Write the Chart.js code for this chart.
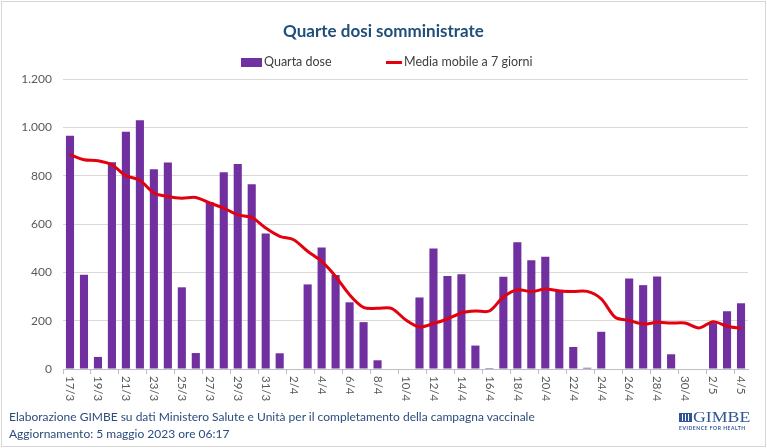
<!DOCTYPE html>
<html>
<head>
<meta charset="utf-8">
<script src="https://cdn.jsdelivr.net/npm/chart.js@4.4.0/dist/chart.umd.min.js"></script>
<style>
  html, body { margin: 0; padding: 0; background: #fff; }
  body { width: 767px; height: 448px; position: relative; overflow: hidden; font-family: Lato, 'Open Sans', sans-serif; }
  #frame { position: absolute; left: 1px; top: 1px; width: 763px; height: 444px; border: 1px solid #d6d6d6; }
  #wrap { position: absolute; left: 0; top: 0; width: 767px; height: 448px; }
  .title { position: absolute; left: 0; width: 767px; top: 20px; text-align: center; font-weight: bold; font-size: 17px; color: #1f4e79; }
  .leg { position: absolute; top: 54px; font-size: 12.5px; color: #404040; white-space: nowrap; }
  .sw-bar { position: absolute; width: 21px; height: 9px; background: #7030a0; }
  .sw-line { position: absolute; width: 16px; height: 3px; background: #e3000f; }
  .foot { position: absolute; left: 9px; font-size: 12px; color: #2b4c7e; white-space: nowrap; }
  .logo { position: absolute; left: 679px; top: 410px; color: #2f5597; }
  .logo .name { font-family: 'Liberation Serif', 'DejaVu Serif', serif; font-size: 14px; position: absolute; left: 14px; top: 0;
    transform: scaleX(1.27); transform-origin: 0 0; }
  .logo .icon { position: absolute; left: 0; top: 3px; width: 13px; height: 9px;
    background: repeating-linear-gradient(90deg, #2f5597 0 2px, #fff 2px 3px); border: 1px solid #2f5597; box-sizing: border-box; }
  .logo .sub { position: absolute; left: 0; top: 15px; font-size: 5px; font-weight: bold; letter-spacing: 0.55px; white-space: nowrap; }
</style>
</head>
<body>
<div id="frame"></div>
<div id="wrap"><canvas id="chart" width="767" height="448"></canvas></div>
<div class="title">Quarte dosi somministrate</div>
<div class="sw-bar" style="left:241px; top:58px;"></div>
<div class="leg" style="left:264px;">Quarta dose</div>
<div class="sw-line" style="left:386px; top:61px;"></div>
<div class="leg" style="left:404px;">Media mobile a 7 giorni</div>
<div class="foot" style="top:409px;">Elaborazione GIMBE su dati Ministero Salute e Unità per il completamento della campagna vaccinale</div>
<div class="foot" style="top:426px;">Aggiornamento: 5 maggio 2023 ore 06:17</div>
<div class="logo"><div class="icon"></div><div class="name">GIMBE</div><div class="sub">EVIDENCE FOR HEALTH</div></div>
<script>
// ─── data ───
const days = ['17/3','18/3','19/3','20/3','21/3','22/3','23/3','24/3','25/3','26/3','27/3','28/3','29/3','30/3','31/3',
  '1/4','2/4','3/4','4/4','5/4','6/4','7/4','8/4','9/4','10/4','11/4','12/4','13/4','14/4','15/4',
  '16/4','17/4','18/4','19/4','20/4','21/4','22/4','23/4','24/4','25/4','26/4','27/4','28/4','29/4','30/4',
  '1/5','2/5','3/5','4/5'];
const quartaDose = [965,390,50,856,982,1029,827,854,338,66,690,814,848,765,561,
  65,0,350,503,389,276,194,36,0,0,296,499,385,392,97,
  4,382,525,450,465,328,91,5,154,0,374,347,383,61,0,
  0,190,239,272];
const mediaMobile = [887,866,862,845,800,781,728,714,707,710,687,666,638,627,583,
  549,535,487,445,383,307,255,251,251,204,174,188,207,232,240,
  240,298,328,320,331,323,321,321,290,214,201,186,193,190,190,
  170,196,177,168];
const yTicks = [0,200,400,600,800,1000,1200];

const fmt = v => v >= 1000 ? Math.floor(v/1000) + '.' + String(v%1000).padStart(3,'0') : String(v);

// x labels rotated clockwise, every other day
const rotLabels = {
  id: 'rotLabels',
  afterDraw(chart) {
    const xs = chart.scales.x, ctx = chart.ctx;
    ctx.save();
    ctx.font = "11.5px Lato, 'Open Sans', sans-serif";
    ctx.fillStyle = '#595959';
    ctx.textAlign = 'left';
    ctx.textBaseline = 'middle';
    days.forEach((d, i) => {
      if (i % 2) return;
      ctx.save();
      ctx.translate(xs.getPixelForTick(i), xs.top + 7);
      ctx.rotate(Math.PI / 2);
      ctx.fillText(d, 0, 0);
      ctx.restore();
    });
    ctx.restore();
  }
};

new Chart(document.getElementById('chart'), {
  type: 'bar',
  data: {
    labels: days,
    datasets: [
      { type: 'line', label: 'Media mobile a 7 giorni', data: mediaMobile, order: 0,
        borderColor: '#e3000f', borderWidth: 3, pointRadius: 0, tension: 0.3, fill: false },
      { label: 'Quarta dose', data: quartaDose, order: 1,
        backgroundColor: '#7030a0', barPercentage: 0.58, categoryPercentage: 1 }
    ]
  },
  options: {
    responsive: false, animation: false,
    layout: { padding: { left: 0, right: 19, top: 79, bottom: 0 } },
    plugins: { legend: { display: false }, title: { display: false }, tooltip: { enabled: false } },
    scales: {
      x: {
        afterFit: s => { s.height = 79; },
        ticks: { display: false },
        border: { color: '#bfbfbf' },
        grid: { drawOnChartArea: false, drawTicks: true, tickLength: 5, offset: true,
          color: c => c.index % 2 === 0 ? '#bfbfbf' : 'rgba(0,0,0,0)' }
      },
      y: {
        min: 0, max: 1200,
        afterFit: s => { s.width = 63; },
        afterBuildTicks: s => { s.ticks = yTicks.map(v => ({ value: v })); },
        border: { display: false },
        grid: { color: '#d9d9d9', drawTicks: false },
        ticks: { padding: 11, color: '#595959', font: { family: "Lato, 'Open Sans', sans-serif", size: 12 }, callback: v => fmt(v) }
      }
    }
  },
  plugins: [rotLabels]
});
</script>
</body>
</html>
